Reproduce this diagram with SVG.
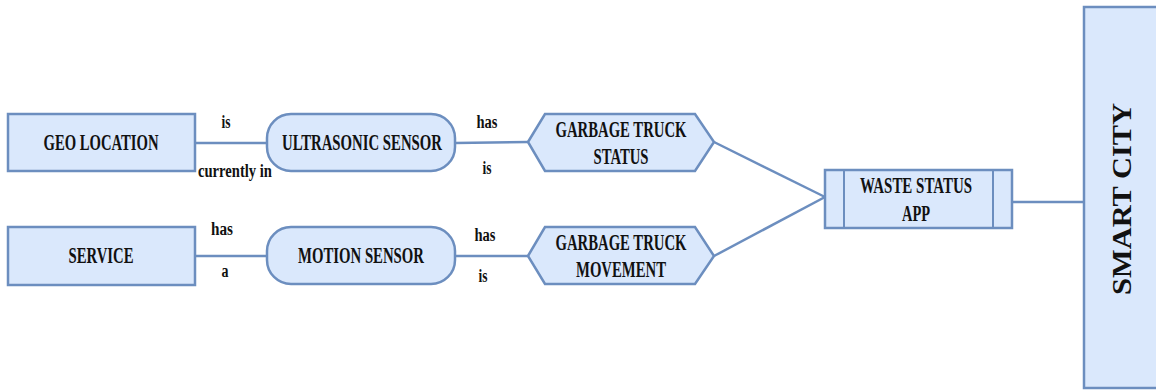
<svg xmlns="http://www.w3.org/2000/svg" width="1156" height="390" viewBox="0 0 1156 390">
  <style>
    .shape { fill: #dae8fc; stroke: #6c8ebf; stroke-width: 2.5; }
    .inner { fill: none; stroke: #6c8ebf; stroke-width: 2; }
    .edge { fill: none; stroke: #6c8ebf; stroke-width: 2.5; }
    text { font-family: "Liberation Serif", "Times New Roman", serif; font-weight: bold; fill: #111111; text-anchor: middle; }
    .rel { font-size: 18px; }
    .node { font-size: 23px; }
    .title { font-size: 28px; }
  </style>
  <rect width="1156" height="390" fill="#ffffff"/>

  <!-- connectors and their relation labels -->
  <g id="connectors">
    <line class="edge" x1="195" y1="143" x2="267" y2="143"/>
    <line class="edge" x1="195" y1="256" x2="267" y2="256"/>
    <line class="edge" x1="455" y1="143" x2="528" y2="142"/>
    <line class="edge" x1="455" y1="256" x2="528" y2="256"/>
    <line class="edge" x1="714" y1="142" x2="825" y2="197"/>
    <line class="edge" x1="714" y1="256" x2="825" y2="197"/>
    <line class="edge" x1="1012" y1="202" x2="1084" y2="202"/>
    <text class="rel" x="226" y="128" textLength="9" lengthAdjust="spacingAndGlyphs">is</text>
    <text class="rel" x="235" y="177" textLength="74" lengthAdjust="spacingAndGlyphs">currently in</text>
    <text class="rel" x="222" y="235" textLength="22" lengthAdjust="spacingAndGlyphs">has</text>
    <text class="rel" x="225" y="277" textLength="7" lengthAdjust="spacingAndGlyphs">a</text>
    <text class="rel" x="487" y="128" textLength="21" lengthAdjust="spacingAndGlyphs">has</text>
    <text class="rel" x="487" y="174" textLength="9" lengthAdjust="spacingAndGlyphs">is</text>
    <text class="rel" x="485" y="241" textLength="21" lengthAdjust="spacingAndGlyphs">has</text>
    <text class="rel" x="483" y="282" textLength="9" lengthAdjust="spacingAndGlyphs">is</text>
  </g>

  <g id="geo-location">
    <rect class="shape" x="8" y="114" width="187" height="57"/>
    <text class="node" x="101" y="150" textLength="115" lengthAdjust="spacingAndGlyphs">GEO LOCATION</text>
  </g>

  <g id="service">
    <rect class="shape" x="8" y="227" width="187" height="58"/>
    <text class="node" x="101" y="263" textLength="65" lengthAdjust="spacingAndGlyphs">SERVICE</text>
  </g>

  <g id="ultrasonic-sensor">
    <rect class="shape" x="267" y="114" width="188" height="57" rx="24" ry="24"/>
    <text class="node" x="362" y="150" textLength="160" lengthAdjust="spacingAndGlyphs">ULTRASONIC SENSOR</text>
  </g>

  <g id="motion-sensor">
    <rect class="shape" x="267" y="227" width="188" height="57" rx="24" ry="24"/>
    <text class="node" x="361" y="263" textLength="126" lengthAdjust="spacingAndGlyphs">MOTION SENSOR</text>
  </g>

  <g id="garbage-truck-status">
    <polygon class="shape" points="528,142 545,114 695,114 714,142 695,171 545,171"/>
    <text class="node" x="621" y="137" textLength="131" lengthAdjust="spacingAndGlyphs">GARBAGE TRUCK</text>
    <text class="node" x="621" y="164" textLength="55" lengthAdjust="spacingAndGlyphs">STATUS</text>
  </g>

  <g id="garbage-truck-movement">
    <polygon class="shape" points="528,256 545,227 695,227 714,256 695,284 545,284"/>
    <text class="node" x="621" y="250" textLength="131" lengthAdjust="spacingAndGlyphs">GARBAGE TRUCK</text>
    <text class="node" x="621" y="277" textLength="90" lengthAdjust="spacingAndGlyphs">MOVEMENT</text>
  </g>

  <g id="waste-status-app">
    <rect class="shape" x="825" y="170" width="187" height="58"/>
    <line class="inner" x1="844" y1="170" x2="844" y2="228"/>
    <line class="inner" x1="993" y1="170" x2="993" y2="228"/>
    <text class="node" x="916" y="193" textLength="112" lengthAdjust="spacingAndGlyphs">WASTE STATUS</text>
    <text class="node" x="916" y="221" textLength="28" lengthAdjust="spacingAndGlyphs">APP</text>
  </g>

  <g id="smart-city">
    <rect class="shape" x="1084" y="7" width="80" height="381"/>
    <text class="title" transform="translate(1131 199) rotate(-90)" textLength="192" lengthAdjust="spacingAndGlyphs">SMART CITY</text>
  </g>
</svg>
